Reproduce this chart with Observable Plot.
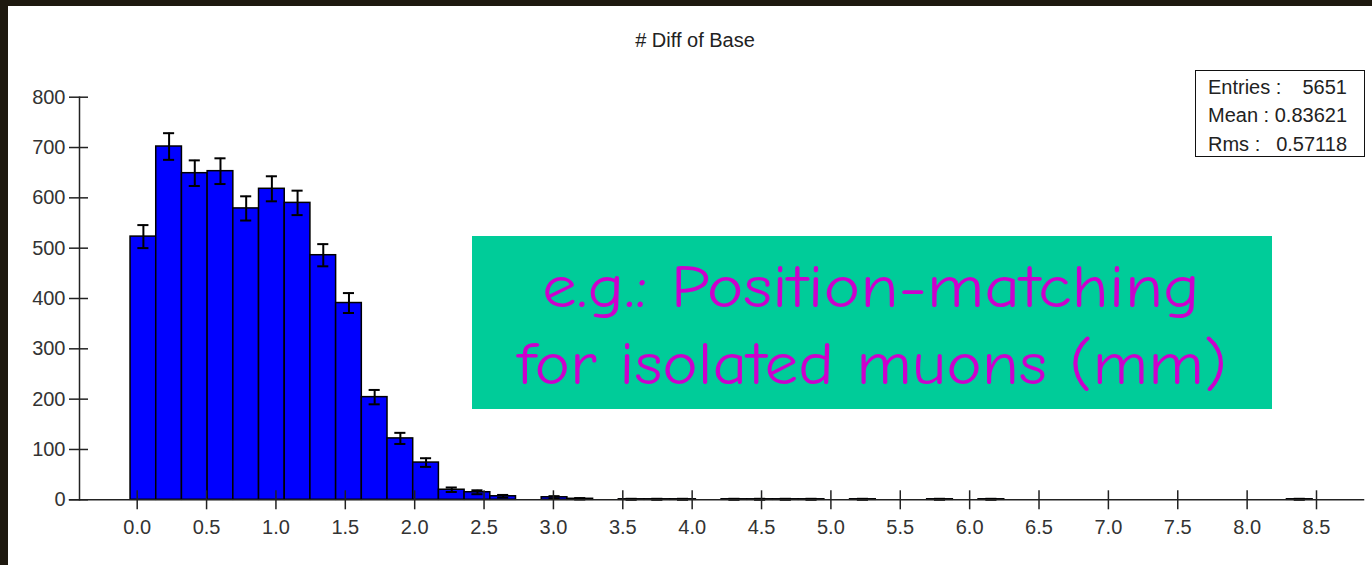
<!DOCTYPE html>
<html>
<head>
<meta charset="utf-8">
<script src="https://cdn.jsdelivr.net/npm/d3@7"></script>
<script src="https://cdn.jsdelivr.net/npm/@observablehq/plot@0.6"></script>
<style>
  html, body { margin: 0; padding: 0; width: 1372px; height: 565px; overflow: hidden; background: #1e190f; }
  #panel { position: absolute; left: 8px; top: 6px; right: 0; bottom: 0; background: #ffffff; }
  #chart { position: absolute; left: 0; top: 0; }
  .txt { position: absolute; font-family: "Liberation Sans", Arial, sans-serif; font-size: 20px; line-height: 20px; color: #222; white-space: nowrap; }
  #title { left: 0; width: 1390px; text-align: center; top: 30px; }
  #stats { position: absolute; left: 1195px; top: 70px; width: 168px; height: 85px; border: 1.5px solid #111; }
  .srow { position: absolute; left: 1208px; width: 139px; display: flex; justify-content: space-between; }
  #note { position: absolute; left: 472px; top: 236px; }
</style>
</head>
<body>
<div id="panel"></div>
<div id="chart"></div>
<div id="title" class="txt"></div>
<div id="stats"></div>
<svg id="note" width="800" height="173"></svg>
<script>
// Histogram "# Diff of Base": 46 equal-width bins over the booked range
const binLow = -0.048;
const binHigh = 8.472;
const counts = [
  523, 702, 649, 653, 579, 618, 590, 486, 391, 204,
  122, 74, 20, 15, 7, 0, 5, 2, 0, 1,
  1, 1, 0, 1, 1, 1, 1, 0, 1, 0,
  0, 1, 0, 1, 0, 0, 0, 0, 0, 0,
  0, 0, 0, 0, 0, 1
];

const xTicks = [0.0, 0.5, 1.0, 1.5, 2.0, 2.5, 3.0, 3.5, 4.0, 4.5, 5.0, 5.5, 6.0, 6.5, 7.0, 7.5, 8.0, 8.5];
const yTicks = [0, 100, 200, 300, 400, 500, 600, 700, 800];

const titleText = "# Diff of Base";
const statLabels = ["Entries :", "Mean :", "Rms :"];
const statValues = ["5651", "0.83621", "0.57118"];
const noteLines = ["e.g.: Position-matching", "for isolated muons (mm)"];

// Bin table with Poisson (sqrt N) errors; empty bins are not drawn
const binWidth = (binHigh - binLow) / counts.length;
const bins = counts.map((n, i) => ({
  x1: binLow + i * binWidth,
  x2: binLow + (i + 1) * binWidth,
  xc: binLow + (i + 0.5) * binWidth,
  n,
  err: Math.sqrt(n)
})).filter(d => d.n > 0);

const capHalf = 0.04; // half-width of the error-bar caps, in x units

const chart = Plot.plot({
  width: 1372,
  height: 565,
  marginLeft: 69,
  marginRight: 9,
  marginTop: 96.7,
  marginBottom: 65.7,
  style: { background: "transparent", fontFamily: "'Liberation Sans', Arial, sans-serif", fontSize: "20px", color: "#222", overflow: "visible" },
  x: { domain: [0, 8.5], range: [136.7, 1316], label: null },
  y: { domain: [0, 800], label: null },
  marks: [
    Plot.rectY(bins, { x1: "x1", x2: "x2", y: "n", fill: "#0000ff", stroke: "#000", strokeWidth: 1.5 }),
    Plot.ruleX(bins, { x: "xc", y1: d => d.n - d.err, y2: d => d.n + d.err, stroke: "#000", strokeWidth: 2 }),
    Plot.ruleY(bins, { y: d => d.n + d.err, x1: d => d.xc - capHalf, x2: d => d.xc + capHalf, stroke: "#000", strokeWidth: 2 }),
    Plot.ruleY(bins, { y: d => d.n - d.err, x1: d => d.xc - capHalf, x2: d => d.xc + capHalf, stroke: "#000", strokeWidth: 2 }),
    Plot.frame({ anchor: "left", dx: 10, stroke: "#222", strokeWidth: 1.5 }),
    Plot.frame({ anchor: "bottom", stroke: "#222", strokeWidth: 1.5 }),
    Plot.axisY({ ticks: yTicks, tickSize: 19, dx: 19, tickFormat: () => "", label: null, stroke: "#222", strokeWidth: 1.5 }),
    Plot.axisY({ ticks: yTicks, tickSize: 0, tickPadding: 4, tickFormat: d3.format("d"), label: null, fill: "#333", fontSize: 20 }),
    Plot.axisX({ ticks: xTicks, tickSize: 19, dy: -9, tickFormat: () => "", label: null, stroke: "#222", strokeWidth: 1.5 }),
    Plot.axisX({ ticks: xTicks, tickSize: 0, tickPadding: 20, tickFormat: d3.format(".1f"), label: null, fill: "#333", fontSize: 20 })
  ]
});
document.getElementById("chart").appendChild(chart);

document.getElementById("title").textContent = titleText;

// Statistics box rows
const rowTops = [77, 105, 134];
statLabels.forEach((label, i) => {
  const row = document.createElement("div");
  row.className = "txt srow";
  row.style.top = rowTops[i] + "px";
  const a = document.createElement("span");
  a.textContent = label;
  const b = document.createElement("span");
  b.textContent = statValues[i];
  row.appendChild(a);
  row.appendChild(b);
  document.body.appendChild(row);
});

// Annotation panel
const note = d3.select("#note");
note.append("rect").attr("width", 800).attr("height", 173).attr("fill", "#00cc99");
const noteX = [70, 45];
const noteW = [658, 710];
const noteY = [71, 148];
noteLines.forEach((line, i) => {
  note.append("text")
    .attr("x", noteX[i])
    .attr("y", noteY[i])
    .attr("textLength", noteW[i])
    .attr("lengthAdjust", "spacingAndGlyphs")
    .attr("fill", "#cc00cc")
    .attr("font-family", "'Comic Sans MS', 'Comic Neue', 'Open Sans', sans-serif")
    .attr("font-size", 60)
    .text(line);
});
</script>
</body>
</html>
